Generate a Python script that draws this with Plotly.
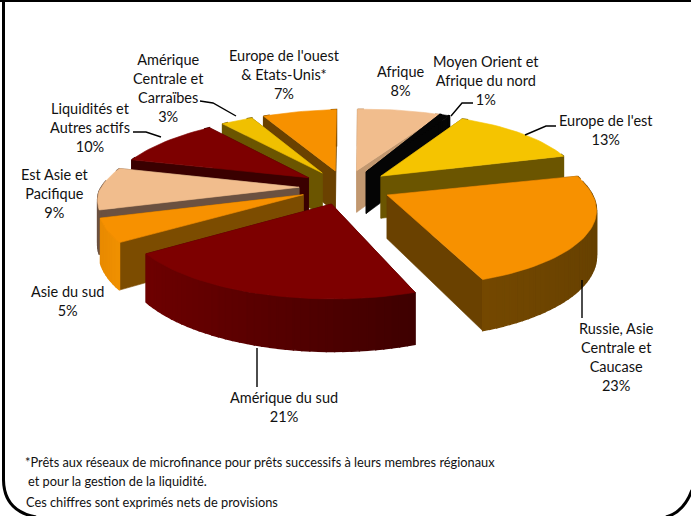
import math
import plotly.graph_objects as go

categories = ["Afrique", "Moyen Orient et<br>Afrique du nord", "Europe de l'est",
              "Russie, Asie<br>Centrale et<br>Caucase", "Amérique du sud", "Asie du sud",
              "Est Asie et<br>Pacifique", "Liquidités et<br>Autres actifs",
              "Amérique<br>Centrale et<br>Carraïbes", "Europe de l'ouest<br>& Etats-Unis*"]
values = [8, 1, 13, 23, 21, 5, 9, 10, 3, 7]
top_colors = ["#F1BD8D", "#050505", "#F5C400", "#F79100", "#7D0000", "#F79100", "#F1BD8D", "#7D0000", "#F0C000", "#F79100"]
radial_colors = ["#C29870", "#050505", "#6B5500", "#6A4100", "#3A0000", "#7C4C00", "#6B5140", "#3A0000", "#6B5500", "#6A4100"]
arc_left = ["#C29870", "#050505", "#6B5500", "#744800", "#6E0000", "#E88A00", "#6B5140", "#3A0000", "#6B5500", "#6A4100"]
arc_right = ["#C29870", "#050505", "#6B5500", "#654000", "#3E0000", "#F09000", "#6B5140", "#3A0000", "#6B5500", "#6A4100"]
turn_deg = [0.8, -2.5, -3, -1, 0, 0, 0, 0, 0, 0]
label_x = [401, 486, 606, 616, 284, 67, 55, 90, 168, 284]
label_y = [81, 80, 130, 357, 407, 301, 193, 127, 88, 74]
leaders = [[(473, 103), (462, 103), (451, 116)], [(556, 126), (546, 126), (525, 135)],
           [(582, 280), (582, 318)], [(257, 348), (257, 387)],
           [(133, 132), (146, 132), (161, 137)], [(200, 101), (213, 103), (236, 116)]]
footnotes = [("*Prêts aux réseaux de microfinance pour prêts successifs à leurs membres régionaux", 24, 462),
             ("et pour la gestion de la liquidité.", 27, 481),
             ("Ces chiffres sont exprimés nets de provisions", 25, 502)]

CX, CY, BX, BY, PERSP, DEPTH, EXPLODE = 345, 187, 200, 75, 0.15, 43, 0.23
SHEAR_X, TILT_Y = 12, 3.5
FONT = "Lato, sans-serif"


def project(x, y, z=0.0):
    s = 1 / (1 - PERSP * y)
    return (CX + BX * x * s + SHEAR_X * max(y, 0),
            CY + BY * y * s + DEPTH * z * s - TILT_Y * x)


def mix(a, b, t):
    pa = [int(a[i:i + 2], 16) for i in (1, 3, 5)]
    pb = [int(b[i:i + 2], 16) for i in (1, 3, 5)]
    return "#%02x%02x%02x" % tuple(round(p + (q - p) * t) for p, q in zip(pa, pb))


def poly(fig, pts, color, lw=0.6):
    fig.add_trace(go.Scatter(x=[p[0] for p in pts] + [pts[0][0]], y=[p[1] for p in pts] + [pts[0][1]],
                             mode="lines", fill="toself", fillcolor=color,
                             line=dict(color=color, width=lw), hoverinfo="skip", showlegend=False))


fig = go.Figure()
total = sum(values)
slices = []
cum = 0
for i, v in enumerate(values):
    t = math.radians(turn_deg[i])
    a0 = 2 * math.pi * cum / total + t
    a1 = 2 * math.pi * (cum + v) / total + t
    cum += v
    slices.append((i, a0, a1, (a0 + a1) / 2))

for i, a0, a1, mid in sorted(slices, key=lambda s: -math.cos(s[3])):
    ox, oy = EXPLODE * math.sin(mid), -EXPLODE * math.cos(mid)
    n = max(6, int((a1 - a0) * 30))
    rim = [(ox + math.sin(a0 + (a1 - a0) * k / n), oy - math.cos(a0 + (a1 - a0) * k / n)) for k in range(n + 1)]
    apex = (ox, oy)
    walls = []
    for end in (rim[0], rim[-1]):
        walls.append(((apex[1] + end[1]) / 2,
                      [project(*apex), project(*end), project(*end, 1), project(*apex, 1)], radial_colors[i], 0.6))
    xs = [p[0] for p in rim]
    xmin, xmax = min(xs), max(xs)
    for k in range(n):
        p, q = rim[k], rim[k + 1]
        t = ((p[0] + q[0]) / 2 - xmin) / max(xmax - xmin, 1e-6)
        if (p[1] + q[1]) / 2 < oy - 0.15 and k not in (0, n - 1):
            continue
        walls.append(((p[1] + q[1]) / 2 + 1,
                      [project(*p), project(*q), project(*q, 1), project(*p, 1)], mix(arc_left[i], arc_right[i], t), 1.4))
    for _, pts, col, lw in sorted(walls, key=lambda w: w[0]):
        poly(fig, pts, col, lw)
    poly(fig, [project(*apex)] + [project(*p) for p in rim], top_colors[i])

for pts in leaders:
    fig.add_trace(go.Scatter(x=[p[0] for p in pts], y=[p[1] for p in pts], mode="lines",
                             line=dict(color="black", width=1.4), hoverinfo="skip", showlegend=False))

for c, v, x, y in zip(categories, values, label_x, label_y):
    fig.add_annotation(x=x, y=y, text=f"{c}<br>{v}%", showarrow=False, xanchor="center", yanchor="middle",
                       align="center", font=dict(family=FONT, size=14.5, color="#111111"))
for t, x, y in footnotes:
    fig.add_annotation(x=x - 1.5, y=y, text=t, showarrow=False, xanchor="left", yanchor="middle", align="left",
                       font=dict(family=FONT, size=12.8, color="#111111"))

frame = dict(type="path", line=dict(color="black", width=3))
fig.add_shape(path="M 3.5,0 L 3.5,480 Q 4,511 36,517", **frame)
fig.add_shape(path="M 0,0.5 L 691,0.5", **frame)
fig.add_shape(path="M 692,490 Q 684,512 666,517", **frame)

fig.update_xaxes(range=[0, 691], visible=False, fixedrange=True)
fig.update_yaxes(range=[516, 0], visible=False, fixedrange=True)
fig.update_layout(width=691, height=516, margin=dict(l=0, r=0, t=0, b=0),
                  paper_bgcolor="white", plot_bgcolor="white", showlegend=False)
fig.write_html("out.html", config={"displayModeBar": False},
               post_script="document.body.style.margin='0';document.documentElement.style.overflow='hidden';")
